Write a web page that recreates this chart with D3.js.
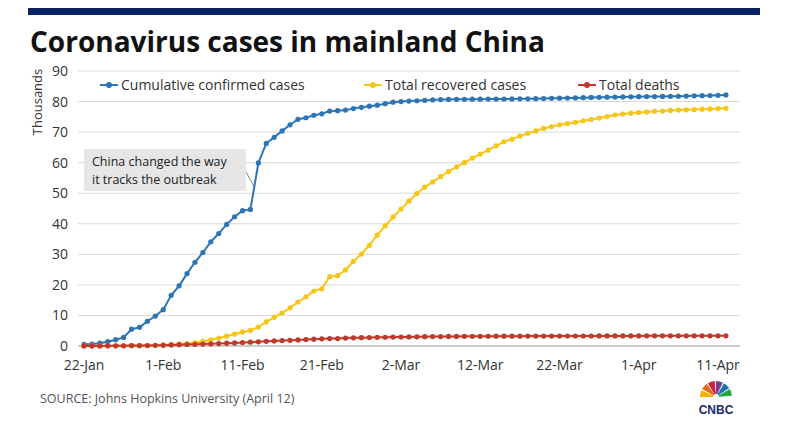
<!DOCTYPE html><html><head><meta charset="utf-8"><script src="https://d3js.org/d3.v7.min.js"></script>
<style>body{margin:0;background:#fff}</style></head><body><svg id="c" width="794" height="431"></svg>
<script>
const startDate="2020-01-22";
const xTicks=["22-Jan","1-Feb","11-Feb","21-Feb","2-Mar","12-Mar","22-Mar","1-Apr","11-Apr"];
const yTicks=[0,10,20,30,40,50,60,70,80,90];
const confirmed=[0.55,0.64,0.92,1.41,2.06,2.8,5.5,6.1,8.1,9.8,
11.9,16.6,19.7,23.7,27.4,30.6,34.1,36.8,39.8,42.3,44.3,44.7,59.9,66.3,68.3,70.4,72.4,74.2,74.7,75.5,76.0,76.9,77.0,77.2,77.7,78.1,78.5,78.8,79.3,
79.8,80.0,80.15,80.27,80.4,80.55,80.65,80.7,80.74,80.76,80.78,80.79,80.8,80.82,80.84,80.86,80.88,80.9,80.95,81.0,81.05,81.1,81.15,81.2,81.27,81.34,81.39,81.44,81.47,81.52,81.55,
81.59,81.62,81.64,81.67,81.71,81.74,81.8,81.86,81.91,81.95,82.05,82.16];
const recovered=[0.03,0.03,0.04,0.04,0.05,0.06,0.1,0.12,0.13,0.17,
0.24,0.43,0.6,0.8,1.1,1.5,2.05,2.6,3.2,3.9,4.6,5.1,6.2,7.9,9.4,10.8,12.5,14.4,16.1,18.0,18.7,22.7,23.0,24.9,27.7,30.1,32.9,36.3,39.3,
42.2,44.8,47.4,49.9,52.0,53.7,55.4,57.1,58.6,60.0,61.5,62.8,64.1,65.5,66.9,67.7,68.7,69.6,70.4,71.2,71.8,72.4,72.8,73.2,73.7,74.1,74.6,75.1,75.6,75.9,76.2,
76.4,76.6,76.8,76.9,77.1,77.2,77.3,77.4,77.5,77.6,77.7,77.8];
const deaths=[0.017,0.018,0.026,0.042,0.056,0.082,0.131,0.133,0.171,0.213,
0.26,0.36,0.43,0.49,0.56,0.64,0.72,0.81,0.91,1.02,1.11,1.26,1.38,1.52,1.66,1.77,1.87,2.0,2.12,2.24,2.34,2.44,2.44,2.59,2.66,2.72,2.79,2.84,2.87,
2.91,2.94,2.98,3.01,3.04,3.07,3.1,3.12,3.14,3.16,3.17,3.18,3.19,3.2,3.21,3.22,3.23,3.24,3.245,3.25,3.255,3.26,3.265,3.27,3.275,3.28,3.285,3.29,3.295,3.3,3.305,
3.31,3.32,3.322,3.326,3.33,3.331,3.333,3.335,3.336,3.337,3.338,3.339];
const seriesNames=["Cumulative confirmed cases","Total recovered cases","Total deaths"];
const colors=["#2e75b6","#f5c518","#c0392b"];

const svg=d3.select("#c");
svg.append("rect").attr("x",28).attr("y",8).attr("width",732).attr("height",7).attr("fill","#0b2265");
svg.append("text").attr("x",30).attr("y",52).attr("font-family","'Open Sans',sans-serif").attr("font-weight",700).attr("font-size",28).attr("fill","#111").text("Coronavirus cases in mainland China");

const t0=new Date(startDate+"T00:00:00");
const day=i=>new Date(t0.getTime()+i*864e5);
const x=d3.scaleTime().domain([day(0),day(80)]).range([84,718]);
const y=d3.scaleLinear().domain([0,90]).range([346,71]);

const g=svg.append("g");
g.selectAll(".gl").data(yTicks).join("line").attr("x1",78).attr("x2",740).attr("y1",d=>y(d)).attr("y2",d=>y(d)).attr("stroke",d=>d===0?"#999":"#d9d9d9");
g.selectAll(".yt").data(yTicks).join("text").attr("x",68).attr("y",d=>y(d)+5).attr("text-anchor","end").attr("font-family","'Open Sans',sans-serif").attr("font-size",14).attr("fill","#333").text(d=>d);
g.selectAll(".xt").data(xTicks).join("text").attr("x",(d,i)=>x(day(i*10))).attr("y",370).attr("text-anchor","middle").attr("font-family","'Open Sans',sans-serif").attr("font-size",14).attr("fill","#333").text(d=>d);
svg.append("text").attr("transform","translate(42,102) rotate(-90)").attr("text-anchor","middle").attr("font-family","'Open Sans',sans-serif").attr("font-size",13).attr("fill","#333").text("Thousands");

svg.append("line").attr("x1",246).attr("y1",172).attr("x2",x(day(21.5))).attr("y2",y(52)).attr("stroke","#888");
svg.append("rect").attr("x",84).attr("y",149).attr("width",162).attr("height",42).attr("fill","#e6e6e6");
svg.append("text").attr("x",92).attr("y",166).attr("font-family","'Open Sans',sans-serif").attr("font-size",12.5).attr("fill","#222").text("China changed the way");
svg.append("text").attr("x",92).attr("y",184).attr("font-family","'Open Sans',sans-serif").attr("font-size",12.5).attr("fill","#222").text("it tracks the outbreak");

const all=[confirmed,recovered,deaths];
const line=d3.line().x((d,i)=>x(day(i))).y(d=>y(d));
all.forEach((s,k)=>{
  svg.append("path").attr("d",line(s)).attr("fill","none").attr("stroke",colors[k]).attr("stroke-width",2);
  svg.append("g").selectAll("circle").data(s).join("circle").attr("cx",(d,i)=>x(day(i))).attr("cy",d=>y(d)).attr("r",2.6).attr("fill",colors[k]);
});

const lx=[100,364,578];
seriesNames.forEach((n,k)=>{
  svg.append("line").attr("x1",lx[k]).attr("x2",lx[k]+18).attr("y1",85).attr("y2",85).attr("stroke",colors[k]).attr("stroke-width",2);
  svg.append("circle").attr("cx",lx[k]+9).attr("cy",85).attr("r",3).attr("fill",colors[k]);
  svg.append("text").attr("x",lx[k]+21).attr("y",90).attr("font-family","'Open Sans',sans-serif").attr("font-size",14).attr("fill","#333").text(n);
});

svg.append("text").attr("x",40).attr("y",403).attr("font-family","'Open Sans',sans-serif").attr("font-size",12.5).attr("fill","#555").text("SOURCE: Johns Hopkins University (April 12)");

const lg=svg.append("g").attr("transform","translate(716,397)");
const pc=["#f3b000","#e46a1f","#d11f3d","#7a3c8f","#1a73b9","#26a542"];
pc.forEach((c,i)=>{const a0=-Math.PI/2-Math.PI/2+i*Math.PI/6,a1=a0+Math.PI/6;
 lg.append("path").attr("d",d3.arc().innerRadius(3).outerRadius(16).startAngle(a0+Math.PI/2).endAngle(a1+Math.PI/2-0.08)()).attr("fill",c);});
svg.append("text").attr("x",716).attr("y",414).attr("text-anchor","middle").attr("font-family","'Liberation Sans',sans-serif").attr("font-weight",700).attr("font-size",12).attr("fill","#1a2a6c").text("CNBC");
</script></body></html>
